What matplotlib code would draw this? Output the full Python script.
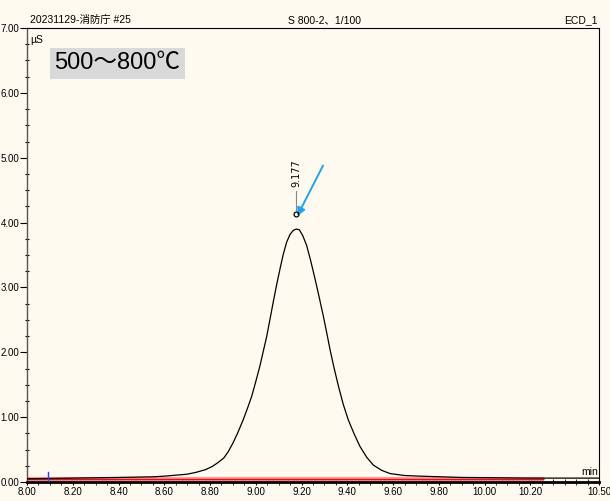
import numpy as np
import matplotlib
matplotlib.use('Agg')
import matplotlib.pyplot as plt
from matplotlib.ticker import MultipleLocator

############### data ###############
t = [8.00, 8.20, 8.40, 8.55, 8.60, 8.70, 8.74, 8.78, 8.81, 8.835, 8.86, 8.88,
     8.90, 8.92, 8.945, 8.965, 8.982, 9.00, 9.018, 9.033, 9.048, 9.062, 9.076,
     9.091, 9.106, 9.12, 9.135, 9.15, 9.164, 9.177, 9.19, 9.205, 9.222, 9.24,
     9.259, 9.277, 9.295, 9.31, 9.324, 9.342, 9.361, 9.382, 9.404, 9.43, 9.455,
     9.485, 9.514, 9.55, 9.587, 9.65, 9.72, 9.90, 10.20, 10.50]
signal = [0.05, 0.06, 0.07, 0.08, 0.09, 0.12, 0.15, 0.19, 0.24, 0.30, 0.37, 0.47,
          0.60, 0.75, 0.96, 1.15, 1.32, 1.55, 1.79, 2.02, 2.25, 2.51, 2.77,
          3.04, 3.29, 3.51, 3.70, 3.82, 3.88, 3.90, 3.89, 3.80, 3.65, 3.41,
          3.13, 2.85, 2.56, 2.30, 2.05, 1.76, 1.48, 1.20, 0.96, 0.74, 0.55,
          0.38, 0.26, 0.18, 0.13, 0.10, 0.09, 0.07, 0.06, 0.06]
base_t = [8.00, 10.26]
base_v = [0.04, 0.04]
peak_rt = 9.177
peak_mark = 4.13
xtick_vals = [8.0, 8.2, 8.4, 8.6, 8.8, 9.0, 9.2, 9.4, 9.6, 9.8, 10.0, 10.2, 10.5]
ytick_vals = [0, 1, 2, 3, 4, 5, 6, 7]

fnt = ['Liberation Sans', 'Noto Sans CJK JP']
bg = '#fefaef'

fig = plt.figure(figsize=(6.10, 5.01), dpi=100, facecolor=bg)
ax = fig.add_axes([27/610, 1-482/501, (599-27)/610, (482-28)/501])
ax.set_facecolor(bg)

# chromatogram + baseline
ax.plot(base_t, base_v, color='#ff9a9a', lw=3.0, solid_capstyle='butt', zorder=2)
ax.plot(base_t, base_v, color='#e01010', lw=1.0, solid_capstyle='butt', zorder=3)
ax.plot(t, signal, color='black', lw=0.9, zorder=4)
ax.plot([8.09, 8.09], [0.0, 0.16], color='#2040ff', lw=1.0, zorder=5)

# peak mark + label
ax.plot(peak_rt, peak_mark, marker='o', ms=3.5, mfc='none', mec='black', mew=0.9, zorder=6)
ax.plot([peak_rt, peak_rt], [peak_mark + 0.06, peak_mark + 0.35], color='#888888', lw=0.8)
ax.text(peak_rt, peak_mark + 0.42, '9.177', rotation=90, ha='center', va='bottom',
        fontsize=7, family='DejaVu Sans')
ax.annotate('', xy=(9.181, 4.10), xytext=(9.294, 4.88),
            arrowprops=dict(arrowstyle='-|>', color='#1aa6f0', lw=1.4,
                            mutation_scale=12, shrinkA=0, shrinkB=0))

# axes
ax.set_xlim(8.0, 10.5)
ax.set_ylim(0, 7.0)
ax.set_xticks(xtick_vals)
ax.set_xticklabels([f'{v:.2f}' for v in xtick_vals], family=fnt, fontsize=7)
ax.set_yticks(ytick_vals)
ax.set_yticklabels([f'{v:.2f}' for v in ytick_vals], family=fnt, fontsize=7)
ax.xaxis.set_minor_locator(MultipleLocator(0.05))
ax.yaxis.set_minor_locator(MultipleLocator(0.25))
ax.tick_params(axis='x', which='major', length=5, width=0.8, pad=1, direction='inout')
ax.tick_params(axis='x', which='minor', length=4, width=0.6, direction='inout')
ax.tick_params(axis='y', which='major', length=5, width=0.8, pad=0.5, direction='out')
ax.tick_params(axis='y', which='minor', length=3, width=0.8, direction='inout')
ax.spines['bottom'].set_linewidth(2.0)
ax.spines['left'].set_linewidth(1.0)
ax.spines['left'].set_color('#555555')
ax.spines['top'].set_linewidth(0.8)
ax.spines['right'].set_linewidth(0.8)

# header texts
fig.text(30/610, 1-20/501, '20231129-消防庁 #25', family=fnt, fontsize=7.5, va='center')
fig.text(325/610, 1-20/501, 'S 800-2、1/100', family=fnt, fontsize=7.5, va='center', ha='center')
fig.text(598/610, 1-20/501, 'ECD_1', family=fnt, fontsize=7.5, va='center', ha='right')
ax.text(0.006, 0.985, 'µS', transform=ax.transAxes, family=fnt, fontsize=7.5, va='top')
ax.text(0.998, 0.012, 'min', transform=ax.transAxes, family=fnt, fontsize=7.5,
        va='bottom', ha='right')

ax.text(0.048, 0.922, '500～800℃', transform=ax.transAxes, fontsize=17, va='center',
        family=fnt, bbox=dict(boxstyle='square,pad=0.2', fc='#d9d9d9', ec='none'))

plt.savefig('out.png', dpi=100, facecolor=bg)
